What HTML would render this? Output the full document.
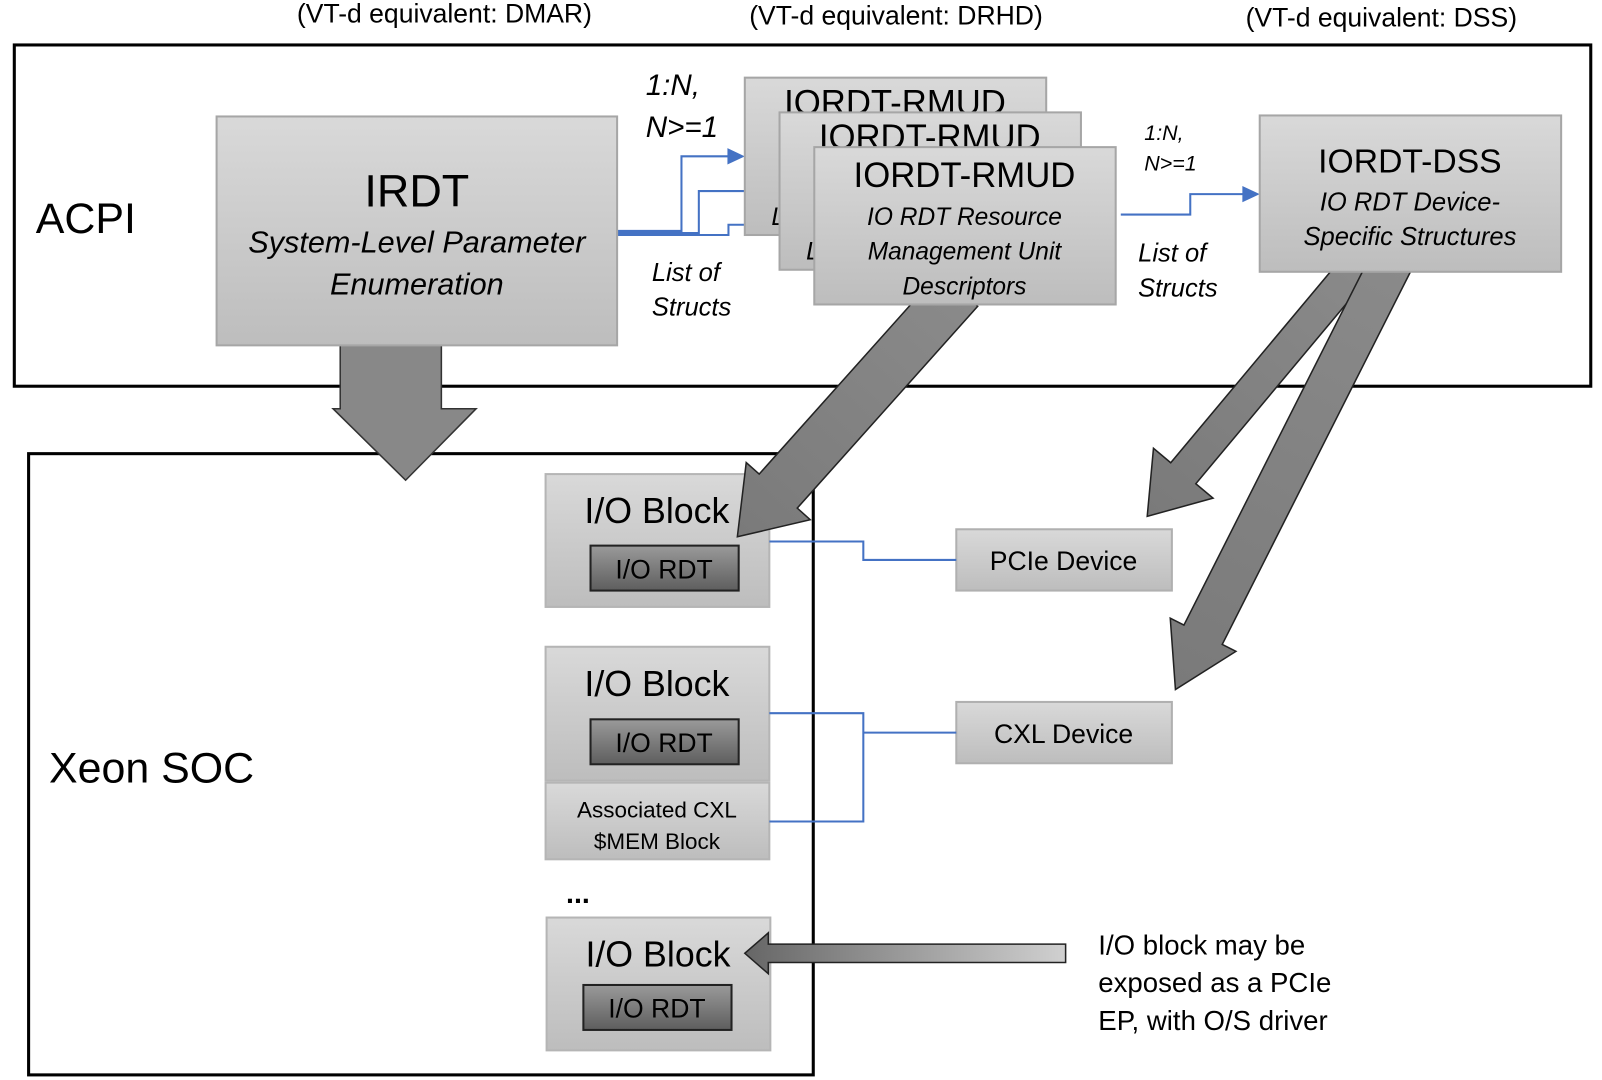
<!DOCTYPE html>
<html><head><meta charset="utf-8"><style>
html,body{margin:0;padding:0;background:#fff;}
svg{display:block;}
text{font-family:"Liberation Sans",sans-serif;fill:#000;}
.it{font-style:italic;}
</style></head><body>
<svg width="1602" height="1080" viewBox="0 0 1568 1057" preserveAspectRatio="none" xmlns="http://www.w3.org/2000/svg">
<defs>
<linearGradient id="g" x1="0" y1="0" x2="0" y2="1"><stop offset="0" stop-color="#d9d9d9"/><stop offset="1" stop-color="#bdbdbd"/></linearGradient>
<linearGradient id="d" x1="0" y1="0" x2="0" y2="1"><stop offset="0" stop-color="#9a9a9a"/><stop offset="1" stop-color="#5e5e5e"/></linearGradient>
<linearGradient id="a" x1="0" y1="0" x2="1" y2="0"><stop offset="0" stop-color="#8a8a8a"/><stop offset="1" stop-color="#7a7a7a"/></linearGradient>
<linearGradient id="ah" x1="0" y1="0" x2="1" y2="0"><stop offset="0" stop-color="#666"/><stop offset="1" stop-color="#d0d0d0"/></linearGradient>
</defs>

<g font-size="26">
<text x="435" y="22" text-anchor="middle">(VT-d equivalent: DMAR)</text>
<text x="877" y="24" text-anchor="middle">(VT-d equivalent: DRHD)</text>
<text x="1352" y="26" text-anchor="middle">(VT-d equivalent: DSS)</text>
</g>

<rect x="14" y="44" width="1543" height="334" fill="none" stroke="#000" stroke-width="3"/>
<rect x="28" y="444" width="768" height="608" fill="none" stroke="#000" stroke-width="3"/>
<text x="35" y="228" font-size="42">ACPI</text>
<text x="48" y="766" font-size="42">Xeon SOC</text>

<!-- IO blocks -->
<rect x="534" y="464" width="219" height="130" fill="url(#g)" stroke="#b5b5b5" stroke-width="2"/>
<text x="643" y="512" font-size="35" text-anchor="middle">I/O Block</text>
<rect x="578" y="534" width="145" height="44" fill="url(#d)" stroke="#222" stroke-width="2"/>
<text x="650" y="566" font-size="26" text-anchor="middle">I/O RDT</text>

<rect x="534" y="633" width="219" height="131" fill="url(#g)" stroke="#b5b5b5" stroke-width="2"/>
<text x="643" y="681" font-size="35" text-anchor="middle">I/O Block</text>
<rect x="578" y="704" width="145" height="44" fill="url(#d)" stroke="#222" stroke-width="2"/>
<text x="650" y="736" font-size="26" text-anchor="middle">I/O RDT</text>
<rect x="534" y="766" width="219" height="75" fill="url(#g)" stroke="#b5b5b5" stroke-width="2"/>
<text x="643" y="800" font-size="22" text-anchor="middle">Associated CXL</text>
<text x="643" y="831" font-size="22" text-anchor="middle">$MEM Block</text>

<text x="554" y="884" font-size="28" font-weight="bold">...</text>

<rect x="535" y="898" width="219" height="130" fill="url(#g)" stroke="#b5b5b5" stroke-width="2"/>
<text x="644" y="946" font-size="35" text-anchor="middle">I/O Block</text>
<rect x="571" y="964" width="145" height="44" fill="url(#d)" stroke="#222" stroke-width="2"/>
<text x="643" y="996" font-size="26" text-anchor="middle">I/O RDT</text>

<rect x="936" y="518" width="211" height="60" fill="url(#g)" stroke="#b0b0b0" stroke-width="2"/>
<text x="1041" y="558" font-size="26" text-anchor="middle">PCIe Device</text>
<rect x="936" y="687" width="211" height="60" fill="url(#g)" stroke="#b0b0b0" stroke-width="2"/>
<text x="1041" y="727" font-size="26" text-anchor="middle">CXL Device</text>

<g font-size="27">
<text x="1075" y="934">I/O block may be</text>
<text x="1075" y="971">exposed as a PCIe</text>
<text x="1075" y="1008">EP, with O/S driver</text>
</g>

<g fill="none" stroke="#4472c4" stroke-width="2">
<polyline points="604,226 667,226 667,153 718,153" />
<polyline points="604,228 684,228 684,187 752,187" />
<polyline points="604,230 713,230 713,220 797,220" />
<polyline points="1097,210 1165,210 1165,190 1222,190" />
<polyline points="753,530 845,530 845,548 936,548" />
<polyline points="753,698 845,698 845,804 753,804" />
<polyline points="845,717 936,717" />
</g>
<g fill="#4472c4">
<path d="M712,145 L729,153 L712,161z"/>
<path d="M746,179 L763,187 L746,195z"/>
<path d="M1216,182 L1233,190 L1216,198z"/>
</g>

<!-- big arrows (behind top boxes) -->
<path d="M333,330 L432,330 L432,400 L466,400 L397,470 L326,400 L333,400 Z" fill="#888" stroke="#333" stroke-width="1.5"/>
<g transform="translate(925,298) rotate(131.8)">
<path d="M-20,-25 L245,-25 L245,-42 L305,0 L245,42 L245,25 L-20,25 Z" fill="url(#a)" stroke="#222" stroke-width="1.5"/>
</g>
<g transform="translate(1323,266) rotate(129.9)">
<path d="M-20,-16 L257,-16 L257,-38 L312,0 L257,38 L257,16 L-20,16 Z" fill="url(#a)" stroke="#222" stroke-width="1.5"/>
</g>
<g transform="translate(1357,266) rotate(116.8)">
<path d="M-20,-21 L398,-21 L398,-36 L458,0 L398,36 L398,21 L-20,21 Z" fill="url(#a)" stroke="#222" stroke-width="1.5"/>
</g>
<path d="M1043,924 L752,924 L752,913 L729,933 L752,953 L752,942 L1043,942 Z" fill="url(#ah)" stroke="#222" stroke-width="1.5"/>

<!-- top boxes -->
<rect x="212" y="114" width="392" height="224" fill="url(#g)" stroke="#a6a6a6" stroke-width="2"/>
<text x="408" y="202" font-size="44" text-anchor="middle">IRDT</text>
<text x="408" y="247" font-size="30" class="it" text-anchor="middle">System-Level Parameter</text>
<text x="408" y="288" font-size="30" class="it" text-anchor="middle">Enumeration</text>

<text x="632" y="93" font-size="29" class="it">1:N,</text>
<text x="632" y="134" font-size="29" class="it">N&gt;=1</text>
<text x="638" y="275" font-size="25" class="it">List of</text>
<text x="638" y="309" font-size="25" class="it">Structs</text>
<text x="1120" y="137" font-size="21" class="it">1:N,</text>
<text x="1120" y="167" font-size="21" class="it">N&gt;=1</text>
<text x="1114" y="256" font-size="25" class="it">List of</text>
<text x="1114" y="290" font-size="25" class="it">Structs</text>

<rect x="729" y="76" width="295" height="154" fill="url(#g)" stroke="#a6a6a6" stroke-width="2"/>
<text x="876" y="112" font-size="34" text-anchor="middle">IORDT-RMUD</text>
<text x="755" y="220" font-size="24" class="it">L</text>
<rect x="763" y="110" width="295" height="154" fill="url(#g)" stroke="#a6a6a6" stroke-width="2"/>
<text x="910" y="146" font-size="34" text-anchor="middle">IORDT-RMUD</text>
<text x="789" y="254" font-size="24" class="it">L</text>
<rect x="797" y="144" width="295" height="154" fill="url(#g)" stroke="#a6a6a6" stroke-width="2"/>
<text x="944" y="183" font-size="34" text-anchor="middle">IORDT-RMUD</text>
<text x="944" y="220" font-size="24" class="it" text-anchor="middle">IO RDT Resource</text>
<text x="944" y="254" font-size="24" class="it" text-anchor="middle">Management Unit</text>
<text x="944" y="288" font-size="24" class="it" text-anchor="middle">Descriptors</text>

<rect x="1233" y="113" width="295" height="153" fill="url(#g)" stroke="#a6a6a6" stroke-width="2"/>
<text x="1380" y="169" font-size="33" text-anchor="middle">IORDT-DSS</text>
<text x="1380" y="206" font-size="25" class="it" text-anchor="middle">IO RDT Device-</text>
<text x="1380" y="240" font-size="25" class="it" text-anchor="middle">Specific Structures</text>
</svg>
</body></html>
